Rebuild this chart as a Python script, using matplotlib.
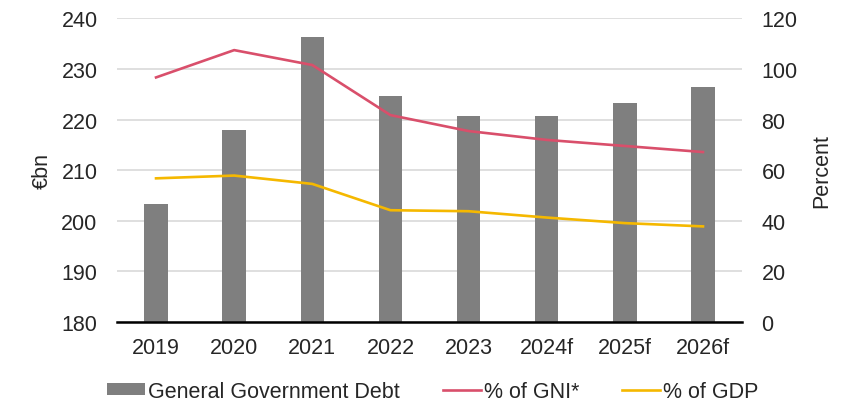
import matplotlib
matplotlib.use("Agg")
import matplotlib.pyplot as plt
import numpy as np

plt.rcParams['font.family'] = ['Liberation Sans', 'DejaVu Sans']

years = ["2019", "2020", "2021", "2022", "2023", "2024f", "2025f", "2026f"]
debt = [203.4, 218.0, 236.3, 224.7, 220.7, 220.8, 223.3, 226.5]
pct_gni = [96.7, 107.5, 101.6, 81.8, 75.5, 72.0, 69.6, 67.2]
pct_gdp = [56.8, 57.9, 54.6, 44.2, 43.8, 41.3, 39.1, 37.8]

FS = 15.5
fig = plt.figure(figsize=(8.47, 4.02), dpi=100)
ax = fig.add_axes([0.1381, 0.1965, 0.738, 0.755])
x = np.arange(len(years))

ax.bar(x, debt, width=0.3, color="#7f7f7f", label="General Government Debt", zorder=2)
ax.set_ylim(180, 240)
ax.set_yticks(np.arange(180, 241, 10))
ax.set_xlim(-0.5, len(years) - 0.5)
ax.set_xticks(x)
ax.set_xticklabels(years)
ax.grid(axis='y', color="#d9d9d9", linewidth=1.2, zorder=0)
ax.set_axisbelow(True)
for s in ["top", "right", "left"]:
    ax.spines[s].set_visible(False)
ax.spines["bottom"].set_linewidth(1.8)
ax.spines["bottom"].set_color("black")
ax.spines["bottom"].set_zorder(4)
ax.tick_params(axis='both', length=0, labelsize=FS, colors="#262626")
ax.tick_params(axis='x', pad=11)
ax.tick_params(axis='y', pad=14)
ax.set_ylabel("€bn", fontsize=FS, labelpad=6, color="#262626")

ax2 = ax.twinx()
ax2.plot(x, pct_gni, color="#d94f6b", linewidth=1.9, label="% of GNI*", zorder=3)
ax2.plot(x, pct_gdp, color="#f5b800", linewidth=1.9, label="% of GDP", zorder=3)
ax2.set_ylim(0, 120)
ax2.set_yticks(np.arange(0, 121, 20))
for s in ["top", "right", "left", "bottom"]:
    ax2.spines[s].set_visible(False)
ax2.tick_params(axis='y', length=0, labelsize=FS, colors="#262626", pad=14)
ax2.set_ylabel("Percent", fontsize=FS, labelpad=10, color="#262626")

h1, l1 = ax.get_legend_handles_labels()
h2, l2 = ax2.get_legend_handles_labels()
leg = fig.legend(h1 + h2, l1 + l2, loc="center", bbox_to_anchor=(0.511, 0.024), ncol=3,
                 frameon=False, fontsize=FS, handlelength=1.75, handleheight=0.5,
                 columnspacing=2.0, handletextpad=0.15, borderpad=0, borderaxespad=0)
for t in leg.get_texts():
    t.set_color("#262626")

fig.savefig("out.png", dpi=100)
